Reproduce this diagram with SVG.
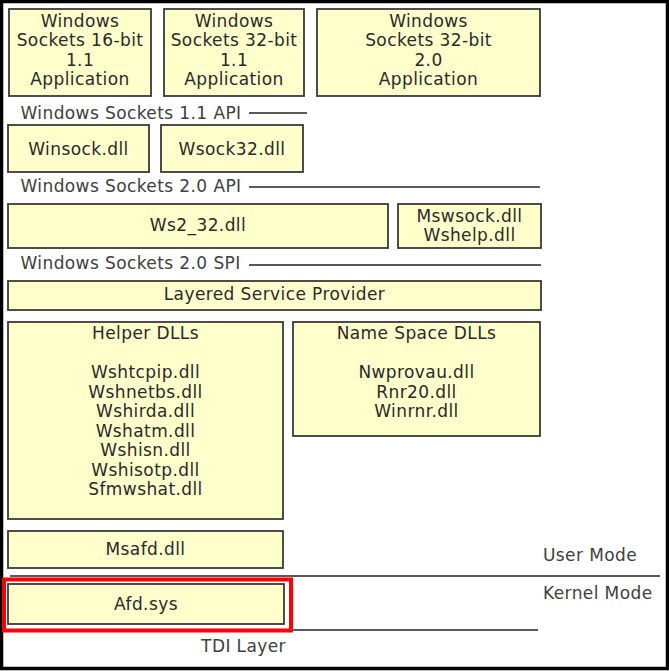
<svg xmlns="http://www.w3.org/2000/svg" width="669" height="671" viewBox="0 0 669 671">
<style>
.box{fill:#FFFFCC;stroke:#3a3a3a;stroke-width:1.8}
.t{font-family:"DejaVu Sans",Verdana,sans-serif;font-size:17px;letter-spacing:0.4px;fill:#2a2a2a;text-anchor:middle}
.lbl{font-family:"DejaVu Sans",Verdana,sans-serif;font-size:17px;letter-spacing:0.4px;fill:#404040}
.sep{stroke:#5a5a5a;stroke-width:2;fill:none}
</style>
<rect x="0" y="0" width="669" height="671" fill="#ffffff"/>
<rect x="1.5" y="1.5" width="666" height="667" fill="none" stroke="#000" stroke-width="3.5"/>

<g id="app16">
<rect class="box" x="9" y="9" width="142" height="87"/>
<text class="t" x="80" y="26.5">Windows</text>
<text class="t" x="80" y="46">Sockets 16-bit</text>
<text class="t" x="80" y="65.5">1.1</text>
<text class="t" x="80" y="85">Application</text>
</g>
<g id="app32-11">
<rect class="box" x="164" y="9" width="140" height="87"/>
<text class="t" x="234" y="26.5">Windows</text>
<text class="t" x="234" y="46">Sockets 32-bit</text>
<text class="t" x="234" y="65.5">1.1</text>
<text class="t" x="234" y="85">Application</text>
</g>
<g id="app32-20">
<rect class="box" x="317" y="9" width="223" height="87"/>
<text class="t" x="428.5" y="26.5">Windows</text>
<text class="t" x="428.5" y="46">Sockets 32-bit</text>
<text class="t" x="428.5" y="65.5">2.0</text>
<text class="t" x="428.5" y="85">Application</text>
</g>

<g id="winsock">
<rect class="box" x="8" y="125" width="141" height="47"/>
<text class="t" x="78.5" y="155">Winsock.dll</text>
</g>
<g id="wsock32">
<rect class="box" x="161" y="125" width="142" height="47"/>
<text class="t" x="232" y="155">Wsock32.dll</text>
</g>

<g id="ws2_32">
<rect class="box" x="8" y="204" width="380" height="44"/>
<text class="t" x="198" y="231">Ws2_32.dll</text>
</g>
<g id="mswsock">
<rect class="box" x="398" y="204" width="143" height="44"/>
<text class="t" x="469.5" y="222">Mswsock.dll</text>
<text class="t" x="469.5" y="241">Wshelp.dll</text>
</g>

<g id="lsp">
<rect class="box" x="8" y="281" width="533" height="29"/>
<text class="t" x="274.5" y="300">Layered Service Provider</text>
</g>

<g id="helper">
<rect class="box" x="8" y="322" width="275" height="197"/>
<text class="t" x="145.5" y="339">Helper DLLs</text>
<text class="t" x="145.5" y="378">Wshtcpip.dll</text>
<text class="t" x="145.5" y="397.5">Wshnetbs.dll</text>
<text class="t" x="145.5" y="417">Wshirda.dll</text>
<text class="t" x="145.5" y="436.5">Wshatm.dll</text>
<text class="t" x="145.5" y="456">Wshisn.dll</text>
<text class="t" x="145.5" y="475.5">Wshisotp.dll</text>
<text class="t" x="145.5" y="495">Sfmwshat.dll</text>
</g>
<g id="namespace">
<rect class="box" x="293" y="322" width="247" height="114"/>
<text class="t" x="416.5" y="339">Name Space DLLs</text>
<text class="t" x="416.5" y="378">Nwprovau.dll</text>
<text class="t" x="416.5" y="397.5">Rnr20.dll</text>
<text class="t" x="416.5" y="417">Winrnr.dll</text>
</g>

<g id="msafd">
<rect class="box" x="8" y="531" width="275" height="37"/>
<text class="t" x="145.5" y="555">Msafd.dll</text>
</g>
<g id="afd">
<rect class="box" x="8" y="584" width="276" height="40"/>
<text class="t" x="146" y="610">Afd.sys</text>
<rect x="4" y="579.5" width="287" height="51" fill="none" stroke="#ff0000" stroke-width="4"/>
</g>

<g id="connectors">
<line class="sep" x1="249" y1="113" x2="307" y2="113"/>
<line class="sep" x1="249" y1="187" x2="540" y2="187"/>
<line class="sep" x1="249" y1="265" x2="541" y2="265"/>
<line class="sep" x1="10" y1="576" x2="660" y2="576"/>
<line class="sep" x1="291" y1="630" x2="538" y2="630"/>
</g>

<g id="labels">
<text class="lbl" x="20.5" y="119">Windows Sockets 1.1 API</text>
<text class="lbl" x="20.5" y="192">Windows Sockets 2.0 API</text>
<text class="lbl" x="20.5" y="269">Windows Sockets 2.0 SPI</text>
<text class="lbl" x="543" y="561">User Mode</text>
<text class="lbl" x="543" y="599">Kernel Mode</text>
<text class="lbl" x="286" y="652" text-anchor="end">TDI Layer</text>
</g>
</svg>
